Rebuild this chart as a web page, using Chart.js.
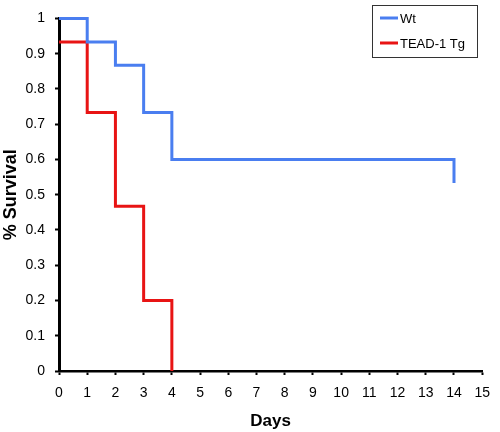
<!DOCTYPE html>
<html>
<head>
<meta charset="utf-8">
<script src="https://cdn.jsdelivr.net/npm/chart.js@4"></script>
<style>
  body { margin: 0; background: #fff; }
  .wrap_chart { width: 500px; height: 432px; }
</style>
</head>
<body>
<div class="wrap_chart"><canvas id="chart"></canvas></div>
<script>
// Kaplan-Meier style survival
const wtDays = [0, 1, 2, 3, 4, 14]
const wtSurvival = [1, 0.933, 0.867, 0.733, 0.6, 0.533]
const tgDays = [0, 1, 2, 3, 4]
const tgSurvival = [0.933, 0.733, 0.467, 0.2, 0]
const seriesLabels = ["Wt", "TEAD-1 Tg"]
const seriesColors = ["#4a7ef0", "#e81414"]

const toPoints = (xs, ys) => xs.map((x, i) => ({ x: x, y: ys[i] }))
const FONT = "Arial, 'Liberation Sans', sans-serif"

// legend box drawn inside the plot, top right
const boxLegend = {
    id: "boxLegend",
    afterDraw(chart) {
        const ctx = chart.ctx
        ctx.save()
        ctx.strokeStyle = "#333"
        ctx.lineWidth = 1
        ctx.strokeRect(372.5, 5.5, 105, 52)
        ctx.font = "13px " + FONT
        ctx.textBaseline = "middle"
        chart.data.datasets.forEach((ds, i) => {
            const y = 18 + i * 25
            ctx.strokeStyle = ds.borderColor
            ctx.lineWidth = 3
            ctx.beginPath()
            ctx.moveTo(380, y)
            ctx.lineTo(398, y)
            ctx.stroke()
            ctx.fillStyle = "#000"
            ctx.fillText(ds.label, 400, y + 1)
        })
        ctx.restore()
    }
}

const context = document.getElementById("chart").getContext("2d")

new Chart(context, {
    type: "line",
    data: {
        datasets: [
            {
                label: seriesLabels[0],
                data: toPoints(wtDays, wtSurvival),
                borderColor: seriesColors[0],
                borderWidth: 3,
                stepped: "before",
                pointRadius: 0,
                fill: false,
                clip: false,
            },
            {
                label: seriesLabels[1],
                data: toPoints(tgDays, tgSurvival),
                borderColor: seriesColors[1],
                borderWidth: 3,
                stepped: "before",
                pointRadius: 0,
                fill: false,
                clip: false,
            },
        ],
    },
    options: {
        responsive: true,
        maintainAspectRatio: false,
        animation: false,
        layout: { padding: { left: 0, right: 11, top: 6, bottom: 0 } },
        plugins: {
            legend: { display: false },
            tooltip: { enabled: false },
        },
        scales: {
            x: {
                type: "linear",
                min: 0,
                max: 15,
                ticks: {
                    stepSize: 1,
                    color: "#000",
                    padding: 10,
                    maxRotation: 0,
                    font: { family: FONT, size: 14 },
                },
                grid: { drawOnChartArea: false, color: "#000", tickLength: 4, tickWidth: 2 },
                border: { display: true, color: "#000", width: 2.5 },
                title: {
                    display: true,
                    text: "Days",
                    color: "#000",
                    padding: { top: 2, bottom: 0 },
                    font: { family: FONT, size: 17, weight: "bold" },
                },
                afterFit(scale) { scale.height = 61 },
            },
            y: {
                min: 0,
                max: 1,
                ticks: {
                    stepSize: 0.1,
                    color: "#000",
                    padding: 10,
                    font: { family: FONT, size: 14 },
                    callback: (v) => String(+v.toFixed(1)),
                },
                grid: { drawOnChartArea: false, color: "#000", tickLength: 4, tickWidth: 2 },
                border: { display: true, color: "#000", width: 3 },
                title: {
                    display: true,
                    text: "% Survival",
                    color: "#000",
                    padding: { top: 0, bottom: 0 },
                    font: { family: FONT, size: 18, weight: "bold" },
                },
                afterFit(scale) { scale.width = 59 },
            },
        },
    },
    plugins: [boxLegend],
})
</script>
</body>
</html>
